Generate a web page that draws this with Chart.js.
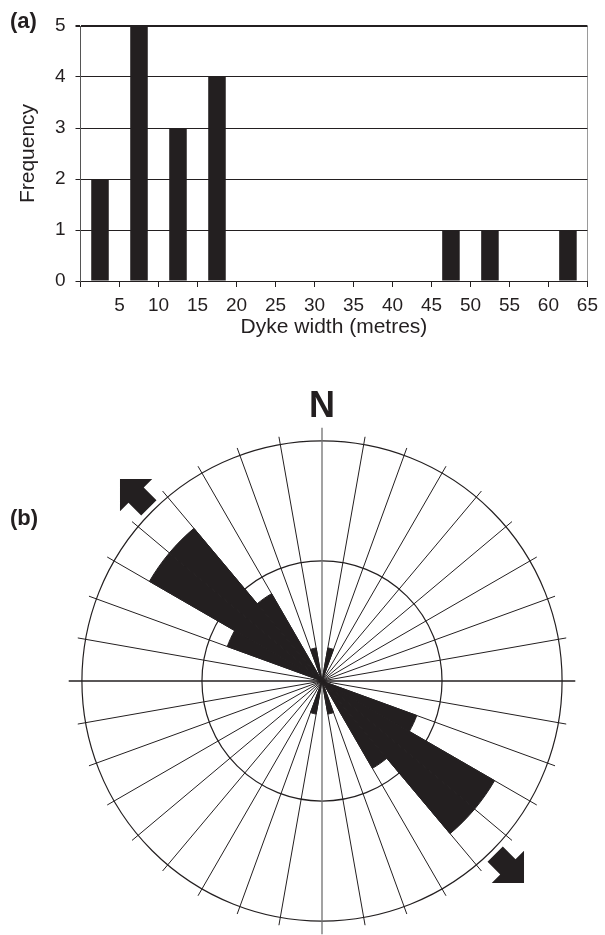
<!DOCTYPE html>
<html>
<head>
<meta charset="utf-8">
<script src="https://cdn.jsdelivr.net/npm/chart.js@4.4.1/dist/chart.umd.min.js"></script>
<style>
  html, body { margin: 0; padding: 0; background: #fff; }
  body { width: 605px; height: 935px; position: relative; overflow: hidden; }
  canvas { position: absolute; left: 0; }
  #hist { top: 0; }
  #rose { top: 370px; }
  .panel { position: absolute; left: 10px; font: bold 22px "Liberation Sans", Arial, sans-serif; line-height: 1; color: #231f20; }
</style>
</head>
<body>
<canvas id="hist" width="605" height="345"></canvas>
<canvas id="rose" width="605" height="565"></canvas>
<div class="panel" style="top:10px">(a)</div>
<div class="panel" style="top:507px">(b)</div>
<script>
const INK = "#231f20";
Chart.defaults.font.family = '"Liberation Sans", Arial, sans-serif';
Chart.defaults.color = INK;

// (a) dyke widths in 5 m bins
const binMids = [2.5, 7.5, 12.5, 17.5, 22.5, 27.5, 32.5, 37.5, 42.5, 47.5, 52.5, 57.5, 62.5];
const frequency = [2, 5, 3, 4, 0, 0, 0, 0, 0, 1, 1, 0, 1];

// (b) strike rose: 10° sectors clockwise from N, lengths on rings of 5 and 10
const sectorStart = [0, 10, 20, 30, 40, 50, 60, 70, 80, 90, 100, 110, 120, 130, 140, 150, 160, 170,
  180, 190, 200, 210, 220, 230, 240, 250, 260, 270, 280, 290, 300, 310, 320, 330, 340, 350];
const sectorLength = [0, 1.4, 0, 0, 0, 0, 0, 0, 0, 0, 0, 4.2, 8.3, 8.3, 4.2, 0, 1.4, 0,
  0, 1.4, 0, 0, 0, 0, 0, 0, 0, 0, 0, 4.2, 8.3, 8.3, 4.2, 0, 1.4, 0];
const roseRings = [5, 10];
const arrowBearings = [315, 135];

// ---------- histogram ----------

new Chart(document.getElementById("hist"), {
  type: "bar",
  data: {
    datasets: [{
      data: binMids.map((x, i) => ({ x, y: frequency[i] })),
      backgroundColor: INK,
      borderWidth: 0,
      barPercentage: 0.45,
      categoryPercentage: 1,
    }],
  },
  options: {
    responsive: false,
    animation: false,
    layout: { padding: { left: 16, right: 15, top: 26, bottom: 0 } },
    plugins: { legend: { display: false }, tooltip: { enabled: false } },
    scales: {
      x: {
        type: "linear", min: 0, max: 65, offset: false,
        ticks: { stepSize: 5, font: { size: 19 }, padding: 7, maxRotation: 0, autoSkip: false,
          callback: (v) => (v === 0 ? "" : v) },
        grid: { offset: false, color: (c) => (c.tick && c.tick.value === 65 ? "#9a9a9a" : "transparent"),
          tickColor: INK, tickLength: 6 },
        border: { color: INK, width: 1 },
        title: { display: true, text: "Dyke width (metres)", font: { size: 21 }, padding: { top: 0, bottom: 5 } },
        afterFit: (s) => { s.height = 64; },
      },
      y: {
        min: 0, max: 5,
        ticks: { stepSize: 1, font: { size: 19 }, padding: 10 },
        grid: { color: INK, lineWidth: (c) => (c.tick && c.tick.value === 5 ? 2 : 1), tickColor: INK, tickLength: 5 },
        border: { color: "#555", width: 1 },
        title: { display: true, text: "Frequency", font: { size: 21 }, padding: 0 },
        afterFit: (s) => { s.width = 64.5; },
      },
    },
  },
});

// ---------- rose ----------

function drawArrow(ctx, cx, cy, bearing, r0, r1, headLen, headHalf, shaftHalf) {
  const a = (bearing * Math.PI) / 180;
  const ux = Math.sin(a), uy = -Math.cos(a);
  const vx = -uy, vy = ux;
  const P = (d, w) => [cx + ux * d + vx * w, cy + uy * d + vy * w];
  const pts = [P(r1, 0), P(r1 - headLen, headHalf), P(r1 - headLen, shaftHalf), P(r0, shaftHalf),
    P(r0, -shaftHalf), P(r1 - headLen, -shaftHalf), P(r1 - headLen, -headHalf)];
  ctx.beginPath();
  pts.forEach(([x, y], i) => (i ? ctx.lineTo(x, y) : ctx.moveTo(x, y)));
  ctx.closePath();
  ctx.fill();
}

const compass = {
  id: "compass",
  beforeDatasetsDraw(chart) {
    const r = chart.scales.r, ctx = chart.ctx;
    const len = r.getDistanceFromCenterForValue(10) * 1.055;
    ctx.save();
    ctx.lineWidth = 1.3;
    ctx.strokeStyle = "#707070";
    ctx.beginPath();
    ctx.moveTo(r.xCenter, r.yCenter - len);
    ctx.lineTo(r.xCenter, r.yCenter + len);
    ctx.stroke();
    ctx.strokeStyle = INK;
    ctx.beginPath();
    ctx.moveTo(r.xCenter - len, r.yCenter);
    ctx.lineTo(r.xCenter + len, r.yCenter);
    ctx.stroke();
    ctx.restore();
  },
  afterDraw(chart) {
    const r = chart.scales.r, ctx = chart.ctx;
    const R = r.getDistanceFromCenterForValue(10);
    ctx.save();
    ctx.fillStyle = INK;
    ctx.font = 'bold 36px "Liberation Sans", Arial, sans-serif';
    ctx.textAlign = "center";
    ctx.textBaseline = "alphabetic";
    ctx.fillText("N", r.xCenter, r.yCenter - R * 1.1);
    for (const b of arrowBearings) {
      drawArrow(ctx, r.xCenter, r.yCenter, b, R * 1.02, R * 1.19, R * 0.095, R * 0.095, R * 0.045);
    }
    ctx.restore();
  },
};

new Chart(document.getElementById("rose"), {
  type: "polarArea",
  data: {
    labels: sectorStart.map((d) => d + "°"),
    datasets: [{ data: sectorLength, backgroundColor: INK, borderColor: INK, borderWidth: 1 }],
  },
  options: {
    responsive: false,
    animation: false,
    layout: { padding: { left: 74, right: 34, top: 63, bottom: 5 } },
    plugins: { legend: { display: false }, tooltip: { enabled: false } },
    scales: {
      r: {
        min: 0, max: 10.33,
        afterBuildTicks: (s) => { s.ticks = [0, ...roseRings].map((value) => ({ value })); },
        ticks: { display: false },
        grid: { circular: true, color: INK, lineWidth: 1.2 },
        angleLines: { display: true, color: (c) => (c.index % 9 === 0 ? "transparent" : INK), lineWidth: 1 },
        pointLabels: { display: false },
      },
    },
  },
  plugins: [compass],
});
</script>
</body>
</html>
